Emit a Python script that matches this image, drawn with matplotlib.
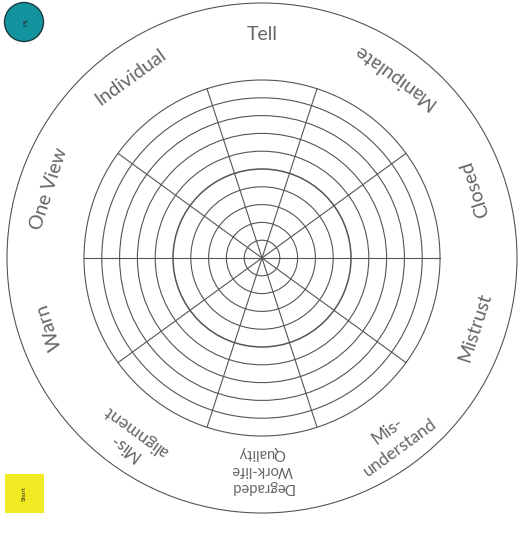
import numpy as np
from matplotlib import pyplot as plt
from matplotlib.patches import Circle, Rectangle

# sector labels, counter-clockwise starting from the top
labels = ['Tell', 'Individual', 'One View', 'Warn', 'Mis-\nalignment',
          'Degraded\nWork-life\nQuality', 'Mis-\nunderstand', 'Mistrust',
          'Closed', 'Manipulate']
label_sizes = [14, 14, 14, 14, 12.5, 10.5, 12.5, 14, 14, 14]
n_rings = 10
legend_top = 'Tall'
legend_bottom = 'Short'

W, H = 519, 539
fig = plt.figure(figsize=(W/100, H/100), dpi=100)
ax = fig.add_axes([0, 0, 1, 1])
ax.set_xlim(0, W)
ax.set_ylim(0, H)
ax.set_aspect('equal')
ax.axis('off')

cx, cy = 262, H - 258
r_outer = 255
r_inner = 178
grey = '#555555'

ax.add_patch(Circle((cx, cy), r_outer, fill=False, ec=grey, lw=0.8))
for i in range(1, n_rings + 1):
    r = r_inner * i / n_rings
    lw = 1.1 if i == n_rings // 2 else 0.8
    ax.add_patch(Circle((cx, cy), r, fill=False, ec=grey, lw=lw))

n = len(labels)
step = 360 / n
for k in range(n):
    a = np.radians(k * step)
    ax.plot([cx, cx + r_inner*np.cos(a)], [cy, cy + r_inner*np.sin(a)],
            color=grey, lw=0.8)

# labels sit in the middle of each sector
for k, lab in enumerate(labels):
    theta = 90 + k * step
    t = np.radians(theta)
    if np.cos(t) > 0.01:
        rot = theta + 90
    else:
        rot = theta - 90
    r_lab = 212 if lab.count('\n') > 1 else 224
    ax.text(cx + r_lab*np.cos(t), cy + r_lab*np.sin(t), lab,
            rotation=rot, rotation_mode='anchor', ha='center', va='center',
            fontsize=label_sizes[k], color='#666666', family='Lato',
            linespacing=1.3)

# little legend markers in the corners
ax.add_patch(Circle((24, H - 22), 19.5, fc='#12939d', ec='#1a3a40', lw=1))
ax.text(24, H - 22, legend_top, rotation=-90, ha='center', va='center',
        fontsize=3.5, color='#222222')
ax.add_patch(Rectangle((5, H - 513), 39, 39, fc='#f2ea22', ec='none'))
ax.text(24.5, H - 493.5, legend_bottom, rotation=90, ha='center', va='center',
        fontsize=4, color='#222222')

fig.savefig('out.png', dpi=100, facecolor='white')
